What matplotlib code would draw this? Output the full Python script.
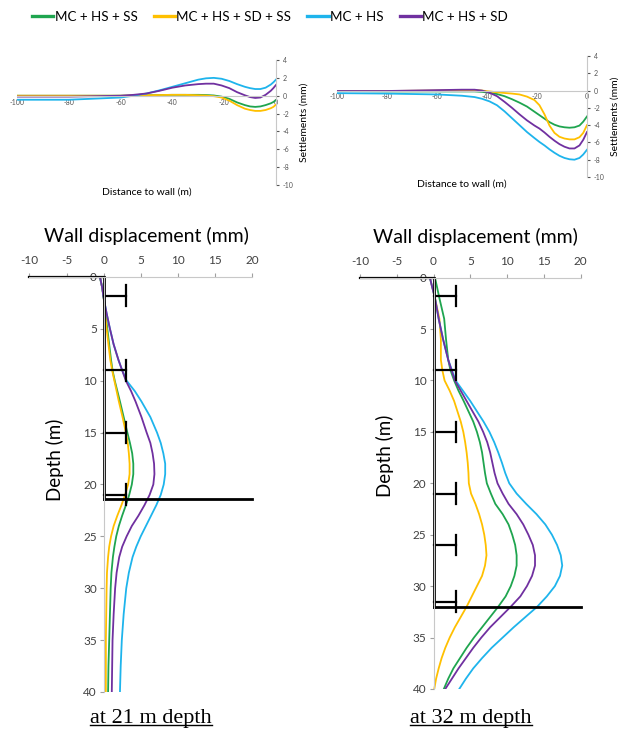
import matplotlib
matplotlib.use("Agg")
import matplotlib.pyplot as plt
from matplotlib.lines import Line2D

plt.rcParams['font.family'] = ['Lato', 'DejaVu Sans']
plt.rcParams['axes.unicode_minus'] = False

# series names and colours
names = ['MC + HS + SS', 'MC + HS + SD + SS', 'MC + HS', 'MC + HS + SD']
colors = ['#1FA54F', '#FFC000', '#1EB4EC', '#7030A0']

# settlement profiles, excavation 21 m (distance to wall in m, settlement in mm)
dist_21 = [-100, -80, -60, -55, -50, -45, -40, -35, -30, -27, -24, -21, -18, -15, -12, -10, -8, -6, -4, -2, -1, 0]
sett_21_ss = [0, 0, 0, 0.03, 0.05, 0.08, 0.1, 0.1, 0.1, 0.08, 0.03, -0.1, -0.35, -0.75, -1.05, -1.2, -1.25, -1.2, -1.05, -0.85, -0.7, -0.5]
sett_21_sdss = [0, 0, 0, 0.03, 0.05, 0.08, 0.1, 0.1, 0.05, 0.02, -0.05, -0.2, -0.55, -1.05, -1.45, -1.6, -1.7, -1.7, -1.6, -1.4, -1.25, -1.0]
sett_21_hs = [-0.45, -0.45, -0.2, 0.0, 0.25, 0.6, 1.0, 1.4, 1.8, 1.95, 2.0, 1.9, 1.65, 1.3, 1.0, 0.85, 0.75, 0.75, 0.9, 1.25, 1.5, 1.8]
sett_21_sd = [-0.1, -0.1, 0.0, 0.1, 0.25, 0.55, 0.9, 1.15, 1.3, 1.35, 1.35, 1.15, 0.85, 0.4, 0.05, -0.15, -0.25, -0.2, 0.1, 0.55, 0.85, 1.2]

# settlement profiles, excavation 32 m
dist_32 = [-100, -80, -60, -50, -45, -42, -39, -36, -33, -30, -27, -24, -21, -19, -17, -15, -13, -11, -9, -7, -5, -3, -1.5, 0]
sett_32_ss = [-0.05, -0.1, -0.1, -0.1, -0.1, -0.15, -0.25, -0.4, -0.65, -1.0, -1.4, -1.85, -2.45, -2.85, -3.25, -3.65, -3.95, -4.15, -4.25, -4.3, -4.25, -4.05, -3.6, -3.0]
sett_32_sdss = [-0.05, -0.05, 0.0, 0.05, 0.05, 0.0, -0.1, -0.2, -0.28, -0.35, -0.45, -0.7, -1.1, -1.7, -2.75, -4.05, -4.9, -5.35, -5.55, -5.65, -5.65, -5.4, -4.9, -4.0]
sett_32_hs = [-0.3, -0.35, -0.45, -0.6, -0.75, -0.95, -1.25, -1.7, -2.4, -3.2, -4.0, -4.8, -5.5, -5.95, -6.35, -6.8, -7.2, -7.55, -7.8, -7.95, -8.0, -7.8, -7.4, -6.85]
sett_32_sd = [-0.05, -0.05, 0.05, 0.1, 0.1, 0.0, -0.25, -0.65, -1.3, -2.0, -2.75, -3.45, -4.05, -4.4, -4.85, -5.35, -5.8, -6.2, -6.5, -6.7, -6.7, -6.35, -5.7, -4.8]

# wall displacement, excavation 21 m (depth in m, displacement in mm)
depth_21 = [0, 1, 2, 3.5, 5, 6.5, 8, 9, 10, 11, 12, 13.5, 15, 16, 17, 18, 19, 20, 21, 22, 23, 24, 25, 26, 27, 28.5, 30, 32.5, 35, 37.5, 40]
wall_21_ss = [-0.5, -0.2, 0, 0.25, 0.5, 0.75, 1.0, 1.2, 1.5, 1.85, 2.2, 2.7, 3.2, 3.55, 3.85, 4.0, 4.0, 3.8, 3.45, 3.0, 2.5, 2.05, 1.7, 1.45, 1.25, 1.05, 0.95, 0.85, 0.75, 0.65, 0.6]
wall_21_sdss = [-0.5, -0.2, 0, 0.2, 0.4, 0.65, 0.9, 1.15, 1.45, 1.75, 2.05, 2.55, 3.0, 3.25, 3.4, 3.5, 3.5, 3.3, 2.9, 2.4, 1.85, 1.35, 1.0, 0.75, 0.6, 0.45, 0.4, 0.35, 0.3, 0.3, 0.3]
wall_21_hs = [-0.5, -0.2, 0, 0.4, 0.85, 1.35, 2.0, 2.5, 3.1, 4.2, 5.1, 6.3, 7.2, 7.7, 8.05, 8.3, 8.3, 8.1, 7.7, 7.1, 6.4, 5.7, 5.0, 4.4, 3.9, 3.4, 3.05, 2.7, 2.45, 2.3, 2.2]
wall_21_sd = [-0.5, -0.2, 0, 0.4, 0.85, 1.35, 2.0, 2.5, 3.0, 3.7, 4.3, 5.1, 5.8, 6.3, 6.6, 6.8, 6.85, 6.7, 6.2, 5.5, 4.7, 3.8, 3.1, 2.5, 2.1, 1.75, 1.55, 1.35, 1.2, 1.15, 1.1]

# wall displacement, excavation 32 m
depth_32 = [0, 2, 4, 6, 8, 9, 10, 11, 12, 14, 15, 16, 17, 18, 19, 20, 21, 22, 23, 24, 25, 26, 27, 28, 29, 30, 31, 32, 33, 34, 35, 36, 37, 38, 39, 40]
wall_32_ss = [0.2, 0.8, 1.45, 1.7, 2.0, 2.3, 2.8, 3.4, 4.1, 5.4, 5.9, 6.3, 6.6, 6.8, 7.0, 7.25, 7.8, 8.4, 9.4, 10.2, 10.7, 11.1, 11.3, 11.3, 11.0, 10.5, 9.8, 8.8, 7.7, 6.6, 5.5, 4.5, 3.6, 2.7, 2.0, 1.4]
wall_32_sdss = [-0.5, 0.2, 0.8, 1.0, 1.0, 1.2, 1.5, 2.2, 2.8, 3.7, 4.05, 4.3, 4.5, 4.65, 4.75, 4.8, 5.1, 5.7, 6.2, 6.6, 6.9, 7.1, 7.2, 7.0, 6.6, 5.9, 5.2, 4.5, 3.7, 2.9, 2.2, 1.6, 1.1, 0.7, 0.35, 0.1]
wall_32_hs = [-0.5, 0.2, 0.7, 1.3, 2.0, 2.5, 3.0, 4.0, 5.0, 6.8, 7.6, 8.25, 8.8, 9.3, 9.75, 10.3, 11.3, 12.6, 14.0, 15.2, 16.1, 16.8, 17.3, 17.5, 17.2, 16.5, 15.4, 14.1, 12.5, 10.9, 9.4, 7.9, 6.6, 5.4, 4.4, 3.5]
wall_32_sd = [-0.5, 0.2, 0.7, 1.3, 2.0, 2.45, 2.9, 3.7, 4.5, 6.1, 6.75, 7.3, 7.7, 8.0, 8.3, 8.7, 9.4, 10.2, 11.3, 12.2, 12.9, 13.5, 13.8, 13.8, 13.4, 12.7, 11.8, 10.5, 9.1, 7.7, 6.5, 5.4, 4.4, 3.4, 2.5, 1.6]

# support levels and excavation depth
struts_21 = [1.8, 9.0, 15.0, 21.0]
struts_32 = [1.8, 9.0, 15.0, 21.0, 26.0, 31.5]
exc_21 = 21.4
exc_32 = 32.0

fig = plt.figure(figsize=(6.18, 7.31), dpi=100)


def settlement_axes(rect, dist, series):
    ax = fig.add_axes(rect)
    for vals, c in zip(series, colors):
        ax.plot(dist, vals, color=c, lw=1.3)
    ax.set_xlim(-100, 0)
    ax.set_ylim(-10, 4)
    ax.set_xticks(range(-100, 1, 20))
    ax.set_yticks(range(-10, 5, 2))
    for s in ['top', 'left']:
        ax.spines[s].set_visible(False)
    ax.spines['bottom'].set_position(('data', 0))
    ax.spines['bottom'].set_color('#c8c8c8')
    ax.spines['right'].set_color('#c8c8c8')
    ax.yaxis.tick_right()
    ax.yaxis.set_label_position('right')
    ax.tick_params(axis='x', length=0, labelsize=5, colors='#555555', pad=2)
    ax.tick_params(axis='y', length=2, labelsize=5, colors='#555555', pad=3)
    ax.set_ylabel('Settlements (mm)', fontsize=7.5, labelpad=4)
    ax.set_xlabel('Distance to wall (m)', fontsize=7.5)
    ax.xaxis.set_label_coords(0.5, -0.02)
    return ax


def wall_axes(rect, depth, series, struts, exc):
    ax = fig.add_axes(rect)
    for vals, c in zip(series, colors):
        ax.plot(vals, depth, color=c, lw=1.3)
    ax.set_xlim(-10, 20)
    ax.set_ylim(40, 0)
    ax.set_xticks(range(-10, 21, 5))
    ax.set_yticks(range(0, 41, 5))
    ax.xaxis.tick_top()
    ax.xaxis.set_label_position('top')
    for s in ['bottom', 'right']:
        ax.spines[s].set_visible(False)
    ax.spines['left'].set_position(('data', 0))
    ax.spines['left'].set_color('#c8c8c8')
    ax.spines['top'].set_color('#c8c8c8')
    ax.tick_params(length=3, labelsize=8.5, pad=2)
    ax.tick_params(axis='x', colors='#a0a0a0', labelcolor='#404040', pad=5)
    ax.tick_params(axis='y', colors='#a0a0a0', labelcolor='#404040')
    ax.set_xlabel('Wall displacement (mm)', fontsize=14)
    ax.xaxis.set_label_coords(0.525, 1.085)
    # ground surface, wall, struts and excavation level
    ax.plot([-10, 0], [0, 0], color='black', lw=1.6, clip_on=False)
    ax.plot([0, 0], [0, exc], color='black', lw=2.0, clip_on=False)
    for d in struts:
        ax.plot([0, 3], [d, d], color='black', lw=1.6)
        ax.plot([3, 3], [d - 1.0, d + 1.0], color='black', lw=1.6)
    ax.plot([0, 20], [exc, exc], color='black', lw=2.0, clip_on=False)
    return ax


ax1 = settlement_axes([0.0275, 0.7469, 0.419, 0.171], dist_21,
                      [sett_21_ss, sett_21_sdss, sett_21_hs, sett_21_sd])
ax2 = settlement_axes([0.5453, 0.7579, 0.4045, 0.1655], dist_32,
                      [sett_32_ss, sett_32_sdss, sett_32_hs, sett_32_sd])
ax3 = wall_axes([0.0477, 0.0534, 0.360, 0.5677], depth_21,
                [wall_21_ss, wall_21_sdss, wall_21_hs, wall_21_sd], struts_21, exc_21)
ax4 = wall_axes([0.5825, 0.0575, 0.357, 0.5627], depth_32,
                [wall_32_ss, wall_32_sdss, wall_32_hs, wall_32_sd], struts_32, exc_32)

fig.text(55 / 618, 1 - 460 / 731, 'Depth (m)', rotation=90, fontsize=13.5,
         ha='center', va='center')
fig.text(385 / 618, 1 - 456 / 731, 'Depth (m)', rotation=90, fontsize=13.5,
         ha='center', va='center')

handles = [Line2D([], [], color=c, lw=2.4) for c in colors]
fig.legend(handles, names, loc='center', bbox_to_anchor=(0.437, 0.977), ncol=4,
           frameon=False, fontsize=9.6, handlelength=1.6, handletextpad=0.1,
           columnspacing=1.2, borderpad=0)

# captions with underline
caps = []
for xc, txt in [(151 / 618, 'at 21 m depth'), (471 / 618, 'at 32 m depth')]:
    caps.append(fig.text(xc, 1 - 718 / 731, txt, fontsize=16,
                         family='Liberation Serif', ha='center', va='center'))
fig.canvas.draw()
renderer = fig.canvas.get_renderer()
for t in caps:
    bb = t.get_window_extent(renderer).transformed(fig.transFigure.inverted())
    fig.add_artist(Line2D([bb.x0, bb.x1], [bb.y0 + 0.003, bb.y0 + 0.003],
                          color='black', lw=1.0, transform=fig.transFigure))

fig.savefig('out.png', dpi=100)
